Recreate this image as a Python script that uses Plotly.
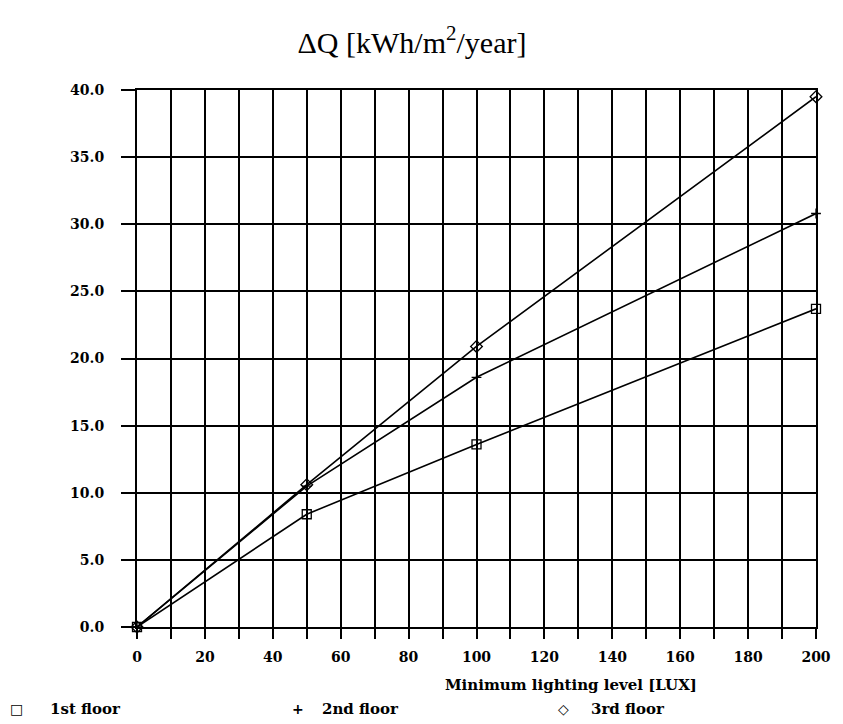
import plotly.graph_objects as go

# Minimum lighting level [LUX]
lux = [0, 50, 100, 200]

# Extra energy demand per floor, kWh/m2/year
floor1 = [0.0, 8.4, 13.6, 23.7]
floor2 = [0.0, 10.5, 18.6, 30.8]
floor3 = [0.0, 10.6, 20.9, 39.5]

series_names = ["1st floor", "2nd floor", "3rd floor"]
series_symbols = ["square-open", "cross-thin-open", "diamond-open"]
legend_glyphs = ["\u25a1", "+", "\u25c7"]

x_ticks = list(range(0, 201, 20))
y_ticks = [0, 5, 10, 15, 20, 25, 30, 35, 40]

W, H = 843, 724
L, R, T, B = 137, 20, 90, 97
serif = "DejaVu Serif"
ink = "#000000"

fig = go.Figure()
for name, vals, sym in zip(series_names, [floor1, floor2, floor3], series_symbols):
    fig.add_trace(go.Scatter(
        x=lux, y=vals, name=name, mode="lines+markers",
        line=dict(color=ink, width=1.6),
        marker=dict(symbol=sym, size=9 if sym != "cross-thin-open" else 7,
                    color=ink, line=dict(color=ink, width=1.3)),
        cliponaxis=False, showlegend=False,
    ))

fig.update_layout(
    width=W, height=H,
    margin=dict(l=L, r=R, t=T, b=B),
    paper_bgcolor="white", plot_bgcolor="white",
    title=dict(text="\u0394Q [kWh/m<sup>2</sup>/year]", x=412 / W, xanchor="center",
               xref="container", y=1 - 42 / H, yanchor="middle",
               font=dict(family="Liberation Serif", size=30, color=ink)),
    font=dict(family=serif, color=ink),
)

fig.update_xaxes(
    range=[0, 200], tickvals=x_ticks, ticktext=[str(v) for v in x_ticks],
    showgrid=True, gridcolor=ink, gridwidth=2,
    minor=dict(dtick=10, showgrid=True, gridcolor=ink, gridwidth=2,
               ticks="outside", ticklen=10, tickcolor=ink, tickwidth=2),
    ticks="outside", ticklen=10, tickcolor=ink, tickwidth=2,
    ticklabelstandoff=6,
    showline=True, linecolor=ink, linewidth=2, mirror=True,
    zeroline=False,
    tickfont=dict(family=serif, size=14, color=ink, weight="bold"),
)

fig.update_yaxes(
    range=[0, 40], tickvals=y_ticks, tickformat=".1f",
    showgrid=True, gridcolor=ink, gridwidth=2,
    ticks="outside", ticklen=14, tickcolor=ink, tickwidth=2,
    ticklabelstandoff=14,
    showline=True, linecolor=ink, linewidth=2, mirror=True,
    zeroline=False,
    tickfont=dict(family=serif, size=14, color=ink, weight="bold"),
)

pw = W - L - R
ph = H - T - B


def px_to_paper(x, y):
    return (x - L) / pw, (H - B - y) / ph


# Axis caption, set right of the plot centre
ax, ay = px_to_paper(575, 685)
fig.add_annotation(x=ax, y=ay, xref="paper", yref="paper",
                   text="Minimum lighting level [LUX]", showarrow=False,
                   xanchor="center", yanchor="middle",
                   font=dict(family=serif, size=15, color=ink, weight="bold"))

# Key row beneath the axis caption
key_x = [15, 300, 568]
label_x = [47, 322, 594]
for gx, lx, glyph, name in zip(key_x, label_x, legend_glyphs, series_names):
    gxp, gyp = px_to_paper(gx, 709)
    fig.add_annotation(x=gxp, y=gyp, xref="paper", yref="paper", text=glyph,
                       showarrow=False, xanchor="center", yanchor="middle",
                       font=dict(family="DejaVu Sans", size=14, color=ink, weight="bold"))
    lxp, lyp = px_to_paper(lx, 709)
    fig.add_annotation(x=lxp, y=lyp, xref="paper", yref="paper", text=name,
                       showarrow=False, xanchor="left", yanchor="middle",
                       font=dict(family=serif, size=15, color=ink, weight="bold"))

fig.write_html("out.html")
